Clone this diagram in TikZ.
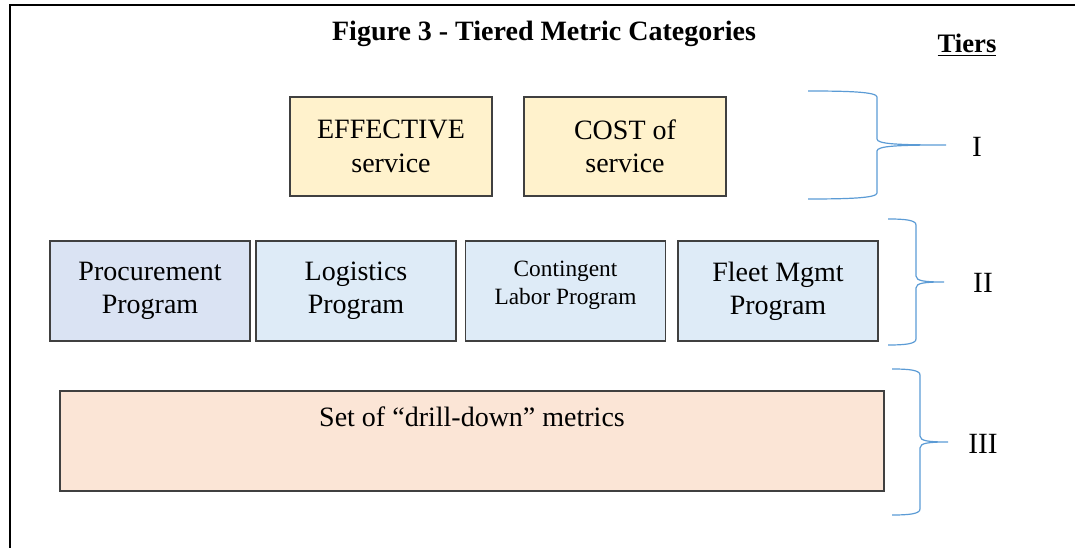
\documentclass[tikz,border=0pt]{standalone}
\usepackage{fontspec}
\setmainfont{Liberation Serif}

\definecolor{boxline}{HTML}{404040}
\definecolor{effcol}{HTML}{FFF2CC}
\definecolor{progcol}{HTML}{DAE3F3}
\definecolor{progcolb}{HTML}{DEEBF7}
\definecolor{drillcol}{HTML}{FBE5D6}
\definecolor{bracecol}{HTML}{5B9BD5}

\tikzset{
  metricbox/.style={draw=boxline, line width=0.8pt, align=center, inner sep=2pt,
    font=\fontsize{21}{25}\selectfont},
  tierone/.style={metricbox, fill=effcol, minimum width=151.5pt, minimum height=74.25pt},
  tiertwo/.style={metricbox, fill=progcolb, minimum width=150pt, minimum height=75pt},
  tierthree/.style={metricbox, fill=drillcol, minimum width=618pt, minimum height=75pt},
  tierlabel/.style={font=\fontsize{22}{26}\selectfont},
  tierbr/.style={draw=bracecol, line width=0.9pt}
}

% brace: arm end x, spine x, tip x, top y, tip y, bottom y
\newcommand{\tierbrace}[6]{
  \draw[tierbr] (#1,#4) .. controls ({#1+0.6*(#2-#1)},#4) and (#2,#4+1) .. (#2,#4+6)
    -- (#2,#5-6) .. controls (#2,#5-1) and ({#2+0.3*(#3-#2)},#5) .. (#3,#5)
    .. controls ({#2+0.3*(#3-#2)},#5) and (#2,#5+1) .. (#2,#5+6)
    -- (#2,#6-6) .. controls (#2,#6-1) and ({#1+0.6*(#2-#1)},#6) .. (#1,#6);
}

\begin{document}
\begin{tikzpicture}[x=0.75pt,y=-0.75pt]
  \useasboundingbox (0,0) rectangle (1075,548);
  \draw[line width=1.5pt] (10,548) -- (10,5) -- (1075,5);

  \node (title) at (544,34) {\fontsize{21}{25}\selectfont\bfseries Figure 3 - Tiered Metric Categories};
  \node (tiers) at (967,45) {\fontsize{20}{24}\selectfont\bfseries\underline{Tiers}};

  % tier I
  \node[tierone] (eff)  at (391,146.5) {EFFECTIVE\\service};
  \node[tierone] (cost) at (625,146.5) {COST of\\service};

  % tier II
  \node[tiertwo, fill=progcol] (proc) at (150,291) {Procurement\\Program};
  \node[tiertwo] (logi)  at (356,291) {Logistics\\Program};
  \node[tiertwo, font=\fontsize{17.5}{21}\selectfont, text depth=12pt] (cont) at (565.5,291) {Contingent\\Labor Program};
  \node[tiertwo] (fleet) at (778,291) {Fleet Mgmt\\Program};

  % tier III
  \node[tierthree, text height=15pt, text depth=36pt] (drill) at (472,441) {Set of “drill-down” metrics};

  \tierbrace{808}{877}{946}{91}{145}{199}
  \tierbrace{888}{916}{944}{219}{282}{345}
  \tierbrace{892}{920}{948}{369}{442}{515}

  \node[tierlabel] (one)   at (977,147) {I};
  \node[tierlabel] (two)   at (983,283) {II};
  \node[tierlabel] (three) at (983,444) {III};
\end{tikzpicture}
\end{document}
